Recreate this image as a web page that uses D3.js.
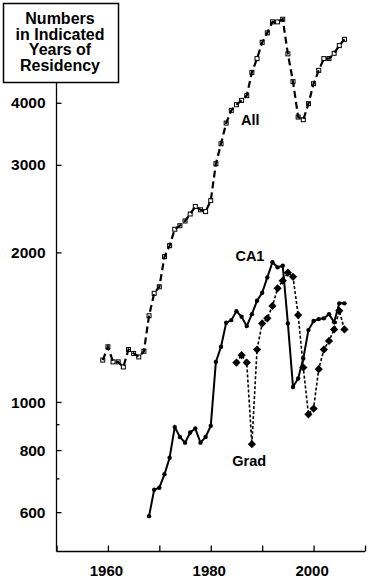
<!DOCTYPE html>
<html lang="en">
<head>
  <meta charset="UTF-8">
  <title>Numbers in Indicated Years of Residency</title>
  <script src="https://cdn.jsdelivr.net/npm/d3@7"></script>
  <style>
  body { margin: 0; background: white; }
  svg text {
    font-family: "Liberation Sans", Arial, Helvetica, sans-serif;
    font-weight: bold;
    fill: black;
  }
  .axis path, .axis line { stroke: black; stroke-width: 1.3; }
  </style>
</head>
<body>
  <div id="chart"></div>
  <script type="text/javascript">
  // Values
  const allYears = d3.range(1959, 2007);
  const allValues = [1214, 1291, 1204, 1204, 1176, 1275, 1252, 1232, 1265, 1491,
    1654, 1705, 1960, 2063, 2226, 2263, 2313, 2389, 2473, 2436,
    2416, 2543, 3015, 3308, 3641, 3862, 3965, 4045, 4134, 4606,
    4909, 5294, 5530, 5820, 5820, 5891, 5018, 4412, 3744, 3698,
    3983, 4371, 4649, 4909, 4909, 5031, 5214, 5368];

  const ca1Years = d3.range(1968, 2007);
  const ca1Values = [589, 666, 672, 715, 772, 890, 850, 828, 868, 884,
    828, 850, 895, 1204, 1291, 1443, 1461, 1523, 1484, 1421,
    1502, 1598, 1659, 1781, 1910, 1866, 1880, 1439, 1072, 1115,
    1223, 1395, 1455, 1468, 1473, 1502, 1446, 1579, 1579];

  const gradYears = d3.range(1985, 2007);
  const gradValues = [1200, 1242, 1200, 822, 1275, 1439, 1473, 1560, 1693, 1754,
    1820, 1786, 1496, 1173, 944, 970, 1164, 1275, 1327, 1399, 1525, 1399];

  const xTicks = [1950, 1960, 1970, 1980, 1990, 2000, 2010];
  const xLabels = [1960, 1980, 2000];
  const yLabels = [600, 800, 1000, 2000, 3000, 4000];
  const yMinor = [700, 900];
  const titleLines = ['Numbers', 'in Indicated', 'Years of', 'Residency'];

  const width = 369, height = 578;
  const svg = d3.select('#chart').append('svg')
    .attr('width', width).attr('height', height);

  const x = d3.scaleLinear().domain([1950, 2010]).range([56.5, 365]);
  const y = d3.scaleLog().domain([500, 6000]).range([551.5, 15.3]);
  const x0 = x.range()[0], yBottom = y.range()[0];

  const pairs = (years, vals) => years.map((yr, i) => [yr, vals[i]]);
  const all = pairs(allYears, allValues);
  const ca1 = pairs(ca1Years, ca1Values);
  const grad = pairs(gradYears, gradValues);

  const line = d3.line().x(d => x(d[0])).y(d => y(d[1]));

  // X axis, ticks pointing up into the plot
  const xAxis = svg.append('g').attr('class', 'axis')
    .attr('transform', `translate(0,${yBottom})`)
    .call(d3.axisTop(x).tickValues(xTicks).tickSize(6).tickSizeOuter(0).tickFormat(''));
  xAxis.select('.domain').attr('d', `M${x0},0H${x.range()[1]}`);
  svg.selectAll('.xlab').data(xLabels).enter().append('text')
    .attr('x', d => x(d) - 1.5).attr('y', yBottom + 24)
    .attr('text-anchor', 'middle').attr('font-size', 15)
    .text(d => d);

  // Y axis (log), ticks pointing right
  const yAxis = svg.append('g').attr('class', 'axis')
    .attr('transform', `translate(${x0},0)`)
    .call(d3.axisRight(y).tickValues(yLabels).tickSize(5).tickSizeOuter(0).tickFormat(''));
  yAxis.select('.domain').attr('d', `M0,${yBottom}V10`);
  yAxis.selectAll('.minor').data(yMinor).enter().append('line')
    .attr('x1', 0).attr('x2', 3)
    .attr('y1', d => y(d)).attr('y2', d => y(d));
  svg.selectAll('.ylab').data(yLabels).enter().append('text')
    .attr('x', x0 - 11).attr('y', d => y(d)).attr('dy', '0.36em')
    .attr('text-anchor', 'end').attr('font-size', 15.5)
    .text(d => d);

  // All: open squares under a dashed line
  svg.append('g').selectAll('rect').data(all).enter().append('rect')
    .attr('x', d => x(d[0]) - 2).attr('y', d => y(d[1]) - 2)
    .attr('width', 4).attr('height', 4)
    .attr('fill', 'white').attr('stroke', 'black').attr('stroke-width', 1);
  svg.append('path').datum(all)
    .attr('d', line).attr('fill', 'none')
    .attr('stroke', 'black').attr('stroke-width', 2.2)
    .attr('stroke-dasharray', '7,4');

  // Grad: dotted line with filled diamonds
  svg.append('path').datum(grad)
    .attr('d', line).attr('fill', 'none')
    .attr('stroke', 'black').attr('stroke-width', 1.6)
    .attr('stroke-dasharray', '3,2');
  svg.append('g').selectAll('path').data(grad).enter().append('path')
    .attr('d', d3.symbol().type(d3.symbolSquare).size(34))
    .attr('transform', d => `translate(${x(d[0])},${y(d[1])}) rotate(45)`)
    .attr('fill', 'black');

  // CA1: solid line with small dots
  svg.append('path').datum(ca1)
    .attr('d', line).attr('fill', 'none')
    .attr('stroke', 'black').attr('stroke-width', 2);
  svg.append('g').selectAll('circle').data(ca1).enter().append('circle')
    .attr('cx', d => x(d[0])).attr('cy', d => y(d[1])).attr('r', 2.2)
    .attr('fill', 'black');

  // Series labels
  svg.append('text').attr('x', x(1986) - 0.5).attr('y', 125)
    .attr('font-size', 14.5).text('All');
  svg.append('text').attr('x', x(1984.8)).attr('y', 261)
    .attr('font-size', 14.5).text('CA1');
  svg.append('text').attr('x', x(1984.2)).attr('y', 466)
    .attr('font-size', 14.5).text('Grad');

  // Title box sitting on top of the y axis
  svg.append('rect')
    .attr('x', 3.5).attr('y', 3.5).attr('width', 115).attr('height', 79)
    .attr('fill', 'white').attr('stroke', 'black').attr('stroke-width', 1.5);
  svg.append('g').selectAll('text').data(titleLines).enter().append('text')
    .attr('x', 60).attr('y', (d, i) => 24 + i * 15.6)
    .attr('text-anchor', 'middle').attr('font-size', 16)
    .text(d => d);
  </script>
</body>
</html>
